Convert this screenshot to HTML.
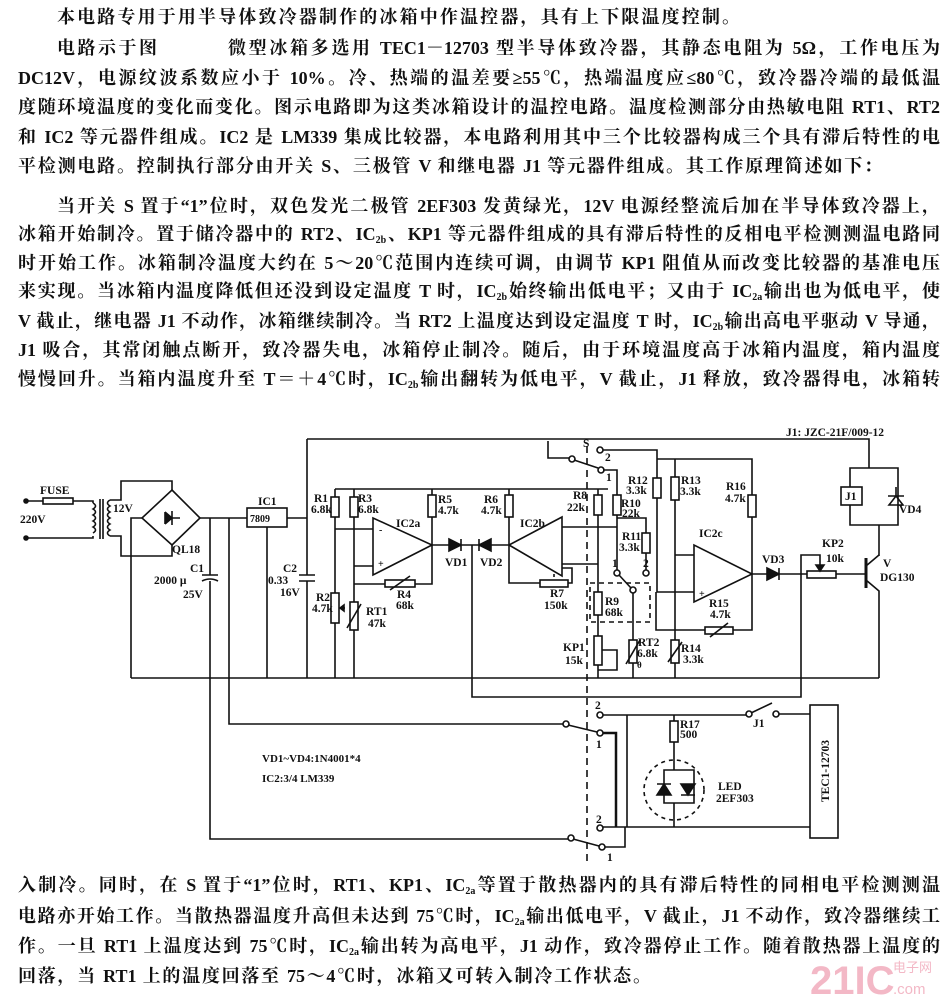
<!DOCTYPE html>
<html><head><meta charset="utf-8"><style>
html,body{margin:0;padding:0;background:#fff;}
body{width:944px;height:1004px;position:relative;overflow:hidden;}
.t{position:absolute;font-family:"Liberation Serif","Noto Serif CJK SC",serif;font-weight:bold;font-size:18px;line-height:20px;height:20px;text-align:justify;text-align-last:justify;color:#111;white-space:nowrap;}
.t sub{font-size:10px;vertical-align:-3px;line-height:0;}
svg{position:absolute;left:0;top:0;}
svg text{font-family:"Liberation Serif",serif;font-weight:bold;font-size:11.5px;fill:#111;}
</style></head><body>
<div class="t" style="left:57px;top:7px;width:683px;">本电路专用于用半导体致冷器制作的冰箱中作温控器，具有上下限温度控制。</div>
<div class="t" style="left:57px;top:38px;width:100px;">电路示于图</div>
<div class="t" style="left:228px;top:38px;width:712px;">微型冰箱多选用 TEC1－12703 型半导体致冷器，其静态电阻为 5Ω，工作电压为</div>
<div class="t" style="left:18px;top:68px;width:922px;">DC12V，电源纹波系数应小于 10%。冷、热端的温差要≥55℃，热端温度应≤80℃，致冷器冷端的最低温</div>
<div class="t" style="left:18px;top:97px;width:922px;">度随环境温度的变化而变化。图示电路即为这类冰箱设计的温控电路。温度检测部分由热敏电阻 RT1、RT2</div>
<div class="t" style="left:18px;top:127px;width:922px;">和 IC2 等元器件组成。IC2 是 LM339 集成比较器，本电路利用其中三个比较器构成三个具有滞后特性的电</div>
<div class="t" style="left:18px;top:156px;width:864px;">平检测电路。控制执行部分由开关 S、三极管 V 和继电器 J1 等元器件组成。其工作原理简述如下：</div>
<div class="t" style="left:57px;top:196px;width:883px;">当开关 S 置于“1”位时，双色发光二极管 2EF303 发黄绿光，12V 电源经整流后加在半导体致冷器上，</div>
<div class="t" style="left:18px;top:224px;width:922px;">冰箱开始制冷。置于储冷器中的 RT2、IC<sub>2b</sub>、KP1 等元器件组成的具有滞后特性的反相电平检测测温电路同</div>
<div class="t" style="left:18px;top:253px;width:922px;">时开始工作。冰箱制冷温度大约在 5～20℃范围内连续可调，由调节 KP1 阻值从而改变比较器的基准电压</div>
<div class="t" style="left:18px;top:281px;width:922px;">来实现。当冰箱内温度降低但还没到设定温度 T 时，IC<sub>2b</sub>始终输出低电平；又由于 IC<sub>2a</sub>输出也为低电平，使</div>
<div class="t" style="left:18px;top:311px;width:922px;">V 截止，继电器 J1 不动作，冰箱继续制冷。当 RT2 上温度达到设定温度 T 时，IC<sub>2b</sub>输出高电平驱动 V 导通，</div>
<div class="t" style="left:18px;top:340px;width:922px;">J1 吸合，其常闭触点断开，致冷器失电，冰箱停止制冷。随后，由于环境温度高于冰箱内温度，箱内温度</div>
<div class="t" style="left:18px;top:369px;width:922px;">慢慢回升。当箱内温度升至 T＝＋4℃时，IC<sub>2b</sub>输出翻转为低电平，V 截止，J1 释放，致冷器得电，冰箱转</div>
<div class="t" style="left:18px;top:875px;width:922px;">入制冷。同时，在 S 置于“1”位时，RT1、KP1、IC<sub>2a</sub>等置于散热器内的具有滞后特性的同相电平检测测温</div>
<div class="t" style="left:18px;top:906px;width:922px;">电路亦开始工作。当散热器温度升高但未达到 75℃时，IC<sub>2a</sub>输出低电平，V 截止，J1 不动作，致冷器继续工</div>
<div class="t" style="left:18px;top:936px;width:922px;">作。一旦 RT1 上温度达到 75℃时，IC<sub>2a</sub>输出转为高电平，J1 动作，致冷器停止工作。随着散热器上温度的</div>
<div class="t" style="left:18px;top:966px;width:633px;">回落，当 RT1 上的温度回落至 75～4℃时，冰箱又可转入制冷工作状态。</div>

<svg width="944" height="1004" viewBox="0 0 944 1004">
<g stroke="#111" stroke-width="1.6" fill="none">
<circle cx="26" cy="501" r="2" fill="#111"/><circle cx="26" cy="538" r="2" fill="#111"/>
<path d="M28 501H43M73 501H93V503M28 538H93V536"/>
<rect x="43" y="498" width="30" height="6"/>
<path d="M93 503q5 3 0 6q5 3 0 6q5 3 0 6q5 3 0 6q5 3 0 6"/>
<path d="M100 499V539M103 499V539"/>
<path d="M110 500q-5 3 0 6q-5 3 0 6q-5 3 0 6q-5 3 0 6q-5 3 0 6q-5 3 0 6"/>
<path d="M110 500H121V481H172V490M110 536H121V556H172V545"/>
<path d="M172 490L200 518L172 545L142 518Z"/>
<path d="M165 512V524M165 518H180M172 511V525"/><path d="M165 512L172 518L165 524" fill="#111"/>
<path d="M142 518H131V678"/>
<path d="M200 518H247M287 518H307"/>
<rect x="247" y="508" width="40" height="19"/>
<path d="M210 518V575M210 581V839H571"/><path d="M202 575H218M202 581Q210 577 218 581"/>
<path d="M229 518V724H566"/>
<path d="M267 527V678"/>
<path d="M307 439V575M307 581V678"/><path d="M299 575H315M299 581H315"/>
<path d="M131 678H879"/>
<path d="M307 439H869V468"/>
<path d="M850 468H898V525H850Z"/>
<rect x="841" y="487" width="21" height="18" fill="#fff"/>
<path d="M888 496H904M896 496L889 505H903Z M896 487V496"/>
<path d="M879 525V556"/>
<path d="M548 441V458H569"/>
<circle cx="572" cy="459" r="3" fill="#fff"/>
<path d="M574 460L598 468"/>
<circle cx="600" cy="450" r="3" fill="#fff"/><circle cx="601" cy="470" r="3" fill="#fff"/>
<path d="M603 450H657V478M657 498V592H694"/>
<path d="M603 470H617V495M617 515V570"/>
<rect x="653" y="478" width="8" height="20"/>
<rect x="613" y="495" width="8" height="20"/>
<path d="M617 518H646V533M646 553V570"/>
<rect x="642" y="533" width="8" height="20"/>
<circle cx="617" cy="573" r="3" fill="#fff"/><circle cx="646" cy="573" r="3" fill="#fff"/><circle cx="633" cy="590" r="3" fill="#fff"/>
<path d="M619 575L631 588M633 593V640M633 663V678"/>
<rect x="629" y="640" width="8" height="23"/>
<path d="M626 664L640 640"/>
<path d="M335 489H608"/>
<path d="M335 489V497M335 517V593M335 623V678"/>
<rect x="331" y="497" width="8" height="20"/><rect x="331" y="593" width="8" height="30"/>
<path d="M345 608H340M340 608l4 -3v6z" fill="#111"/>
<path d="M354 489V497M354 517V602M354 630V678"/>
<rect x="350" y="497" width="8" height="20"/><rect x="350" y="602" width="8" height="28"/>
<path d="M347 628L361 604"/>
<path d="M335 529H373M354 566H373"/>
<path d="M373 518V575L432 545Z"/>
<path d="M354 584H385M415 584H432V545"/>
<rect x="385" y="580" width="30" height="7"/><path d="M390 590L410 576"/>
<path d="M432 489V495M432 517V545"/>
<rect x="428" y="495" width="8" height="22"/>
<path d="M432 545H509"/>
<path d="M449 539V551M461 539V551M449 539L461 545L449 551Z" fill="#111"/>
<path d="M479 539V551M491 539V551M491 539L479 545L491 551Z" fill="#111"/>
<path d="M472 545V697H801V574"/>
<path d="M509 489V495M509 517V545"/>
<rect x="505" y="495" width="8" height="22"/>
<path d="M562 517V576L509 545Z"/>
<path d="M562 527H617M562 564H598"/>
<path d="M509 545V583H540M568 583H572V568H562"/>
<rect x="540" y="580" width="28" height="7"/><path d="M554 577V574"/>
<path d="M598 489V495M598 515V592M598 615V636M598 665V678"/>
<rect x="594" y="495" width="8" height="20"/><rect x="594" y="592" width="8" height="23"/><rect x="594" y="636" width="8" height="29"/>
<path d="M602 650H617V670H598"/>
<path d="M590 583H650V622H590Z" stroke-dasharray="5 4"/>
<path d="M657 459H752V495M752 517V630H733M705 630H656V592"/>
<rect x="748" y="495" width="8" height="22"/>
<rect x="705" y="627" width="28" height="7"/><path d="M710 637L728 623"/>
<path d="M675 459V477M675 500V640M675 663V678"/>
<rect x="671" y="477" width="8" height="23"/><rect x="671" y="640" width="8" height="23"/>
<path d="M668 662L682 642"/>
<path d="M675 555H694"/>
<path d="M694 545V602L752 574Z"/>
<path d="M752 574H807"/>
<path d="M767 568V580M779 568V580M767 568L779 574L767 580Z" fill="#111"/>
<rect x="807" y="571" width="29" height="7"/>
<path d="M801 574V555H820V568"/><path d="M816 565L820 571L824 565Z" fill="#111"/>
<path d="M836 574H865"/>
<path d="M866 558V588" stroke-width="3"/>
<path d="M866 566L879 555M866 580L879 591V678"/>
<path d="M587 446V866" stroke-dasharray="7 5"/>
<circle cx="566" cy="724" r="3" fill="#fff"/><circle cx="600" cy="715" r="3" fill="#fff"/><circle cx="600" cy="733" r="3" fill="#fff"/>
<path d="M568 725L597 732"/>
<path d="M603 715H748M627 715V827"/>
<path d="M603 733H616V827" stroke-width="2.5"/>
<circle cx="749" cy="714" r="3" fill="#fff"/><circle cx="776" cy="714" r="3" fill="#fff"/>
<path d="M751 713L772 703M779 714H810"/>
<path d="M674 715V721M674 742V770"/>
<rect x="670" y="721" width="8" height="21"/>
<circle cx="674" cy="790" r="30" stroke-dasharray="4 4"/>
<path d="M664 770H694V803H664Z"/>
<path d="M657 784H671M664 784L657 795H671Z M681 795H695M688 795L681 784H695Z" fill="#111"/>
<path d="M674 803V827"/>
<path d="M603 827H810"/>
<rect x="810" y="705" width="28" height="133"/>
<circle cx="600" cy="828" r="3" fill="#fff"/><circle cx="571" cy="838" r="3" fill="#fff"/><circle cx="602" cy="847" r="3" fill="#fff"/>
<path d="M573 839L599 846M605 847H625V827"/>
</g>
<g>
<text x="40" y="494">FUSE</text><text x="20" y="523">220V</text><text x="113" y="512">12V</text>
<text x="172" y="553">QL18</text>
<text x="258" y="505">IC1</text><text x="250" y="522" style="font-size:10px">7809</text>
<text x="190" y="572">C1</text><text x="154" y="584">2000 μ</text><text x="183" y="598">25V</text>
<text x="283" y="572">C2</text><text x="268" y="584">0.33</text><text x="280" y="596">16V</text>
<text x="314" y="502">R1</text><text x="311" y="513">6.8k</text>
<text x="358" y="502">R3</text><text x="358" y="513">6.8k</text>
<text x="396" y="527">IC2a</text>
<text x="379" y="533" style="font-size:10px">-</text><text x="378" y="567" style="font-size:10px">+</text>
<text x="438" y="503">R5</text><text x="438" y="514">4.7k</text>
<text x="484" y="503">R6</text><text x="481" y="514">4.7k</text>
<text x="520" y="527">IC2b</text>
<text x="316" y="601">R2</text><text x="312" y="612">4.7k</text>
<text x="366" y="615">RT1</text><text x="368" y="627">47k</text>
<text x="397" y="598">R4</text><text x="396" y="609">68k</text>
<text x="445" y="566">VD1</text><text x="480" y="566">VD2</text>
<text x="550" y="597">R7</text><text x="544" y="609">150k</text>
<text x="573" y="499">R8</text><text x="567" y="511">22k</text>
<text x="583" y="447">S</text><text x="605" y="461">2</text><text x="606" y="481">1</text>
<text x="628" y="484">R12</text><text x="626" y="494">3.3k</text>
<text x="621" y="507">R10</text><text x="622" y="517">22k</text>
<text x="622" y="540">R11</text><text x="619" y="551">3.3k</text>
<text x="612" y="567">1</text><text x="643" y="567">2</text>
<text x="605" y="605">R9</text><text x="605" y="616">68k</text>
<text x="563" y="651">KP1</text><text x="565" y="664">15k</text>
<text x="638" y="646">RT2</text><text x="637" y="657">6.8k</text><text x="637" y="668" style="font-size:9px">θ</text>
<text x="681" y="652">R14</text><text x="683" y="663">3.3k</text>
<text x="681" y="484">R13</text><text x="680" y="495">3.3k</text>
<text x="726" y="490">R16</text><text x="725" y="502">4.7k</text>
<text x="699" y="537">IC2c</text><text x="699" y="597" style="font-size:10px">+</text>
<text x="709" y="607">R15</text><text x="710" y="618">4.7k</text>
<text x="762" y="563">VD3</text><text x="822" y="547">KP2</text><text x="826" y="562">10k</text>
<text x="883" y="567">V</text><text x="880" y="581">DG130</text>
<text x="899" y="513">VD4</text><text x="845" y="500">J1</text>
<text x="786" y="436">J1: JZC-21F/009-12</text>
<text x="595" y="709">2</text><text x="596" y="748">1</text><text x="753" y="727">J1</text>
<text x="680" y="728">R17</text><text x="680" y="738">500</text>
<text x="718" y="790">LED</text><text x="716" y="802">2EF303</text>
<text x="596" y="823">2</text><text x="607" y="861">1</text>
<text x="262" y="762" style="font-size:11px">VD1~VD4:1N4001*4</text><text x="262" y="782" style="font-size:11px">IC2:3/4 LM339</text>
<text transform="translate(829 771) rotate(-90)" text-anchor="middle">TEC1-12703</text>
<text x="810" y="994" style="font-family:'Liberation Sans',sans-serif;font-size:40px;fill:#f3b8c6;font-weight:bold">21IC</text>
<text x="893" y="972" style="font-family:'Noto Sans CJK SC',sans-serif;font-size:13px;fill:#f3b8c6;font-weight:normal">电子网</text>
<text x="893" y="994" style="font-family:'Liberation Sans',sans-serif;font-size:15px;fill:#f3b8c6;font-weight:normal">.com</text>
</g>
</svg>
</body></html>
